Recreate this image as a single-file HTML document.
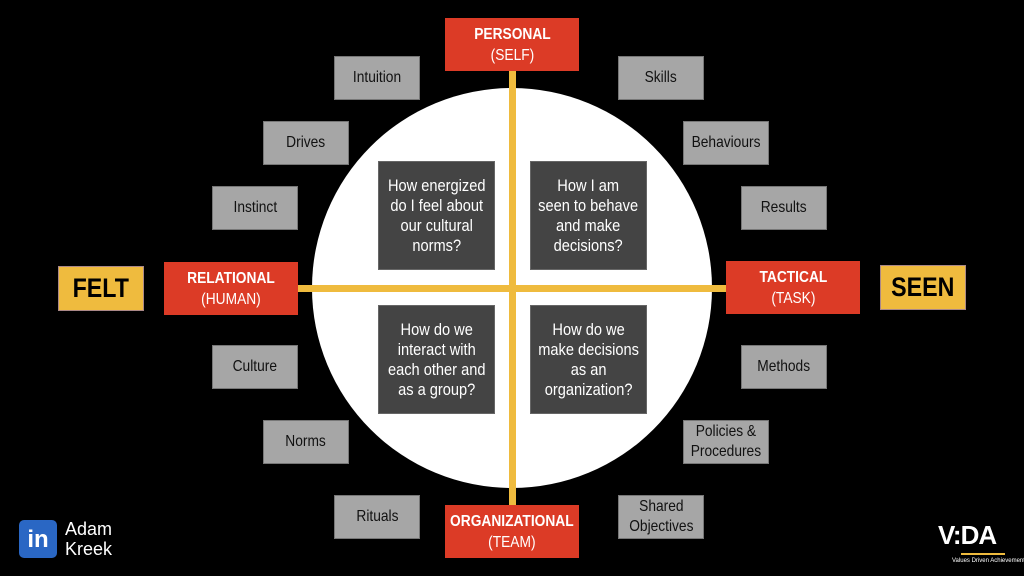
<!DOCTYPE html>
<html><head><meta charset="utf-8"><style>
body{margin:0;width:1024px;height:576px;background:#000;position:relative;overflow:hidden;font-family:"Liberation Sans",sans-serif}
div.b{position:absolute;display:flex;align-items:center;justify-content:center;text-align:center;box-sizing:border-box;white-space:nowrap}
div.b span{display:inline-block;transform:scaleX(0.86)}
.g{background:#a6a6a6;border:1px solid #777;color:#111;font-size:16px;width:86px;height:44px;line-height:20px}
.r{background:#dc3b26;color:#fff;width:134px;height:53px;font-size:16px;line-height:21px}
.y{background:#efbb3e;color:#000;width:86px;height:45px;font-size:27px;font-weight:bold;border:1px solid #a88}
.d{background:#444;color:#fff;width:117px;height:109px;font-size:17px;line-height:20px;border:1px solid #666}
.circle{position:absolute;left:312px;top:88px;width:400px;height:400px;border-radius:50%;background:#fff}
.vl{position:absolute;left:509px;top:70px;width:7px;height:436px;background:#efbb3e}
.hl{position:absolute;left:297px;top:285px;width:430px;height:7px;background:#efbb3e}
</style></head><body>
<div class="circle"></div>
<div class="vl"></div><div class="hl"></div>
<div class="b d" style="left:378px;top:161px"><span>How energized<br>do I feel about<br>our cultural<br>norms?</span></div>
<div class="b d" style="left:530px;top:161px"><span>How I am<br>seen to behave<br>and make<br>decisions?</span></div>
<div class="b d" style="left:378px;top:305px"><span>How do we<br>interact with<br>each other and<br>as a group?</span></div>
<div class="b d" style="left:530px;top:305px"><span>How do we<br>make decisions<br>as an<br>organization?</span></div>
<div class="b r" style="left:445px;top:18px"><span><b>PERSONAL</b><br>(SELF)</span></div>
<div class="b r" style="left:164px;top:262px"><span><b>RELATIONAL</b><br>(HUMAN)</span></div>
<div class="b r" style="left:726px;top:261px"><span><b>TACTICAL</b><br>(TASK)</span></div>
<div class="b r" style="left:445px;top:505px"><span><b>ORGANIZATIONAL</b><br>(TEAM)</span></div>
<div class="b y" style="left:58px;top:266px"><span>FELT</span></div>
<div class="b y" style="left:880px;top:265px"><span>SEEN</span></div>
<div class="b g" style="left:334px;top:56px"><span>Intuition</span></div>
<div class="b g" style="left:263px;top:121px"><span>Drives</span></div>
<div class="b g" style="left:212px;top:186px"><span>Instinct</span></div>
<div class="b g" style="left:212px;top:345px"><span>Culture</span></div>
<div class="b g" style="left:263px;top:420px"><span>Norms</span></div>
<div class="b g" style="left:334px;top:495px"><span>Rituals</span></div>
<div class="b g" style="left:618px;top:56px"><span>Skills</span></div>
<div class="b g" style="left:683px;top:121px"><span>Behaviours</span></div>
<div class="b g" style="left:741px;top:186px"><span>Results</span></div>
<div class="b g" style="left:741px;top:345px"><span>Methods</span></div>
<div class="b g" style="left:683px;top:420px"><span>Policies &amp;<br>Procedures</span></div>
<div class="b g" style="left:618px;top:495px"><span>Shared<br>Objectives</span></div>
<div style="position:absolute;left:19px;top:520px;width:38px;height:38px;background:#2a67c4;border-radius:5px;color:#fff;font-weight:bold;font-size:24px;line-height:40px;text-align:center">in</div>
<div style="position:absolute;left:65px;top:519px;color:#fff;font-size:18px;line-height:20px">Adam<br>Kreek</div>
<div style="position:absolute;left:938px;top:520px;color:#fff;font-size:26px;font-weight:bold;letter-spacing:-1px">V:DA</div>
<div style="position:absolute;left:961px;top:553px;width:44px;height:2px;background:#efbb3e"></div>
<div style="position:absolute;left:952px;top:558px;color:#fff;font-size:6px;white-space:nowrap">Values Driven Achievement</div>
</body></html>
